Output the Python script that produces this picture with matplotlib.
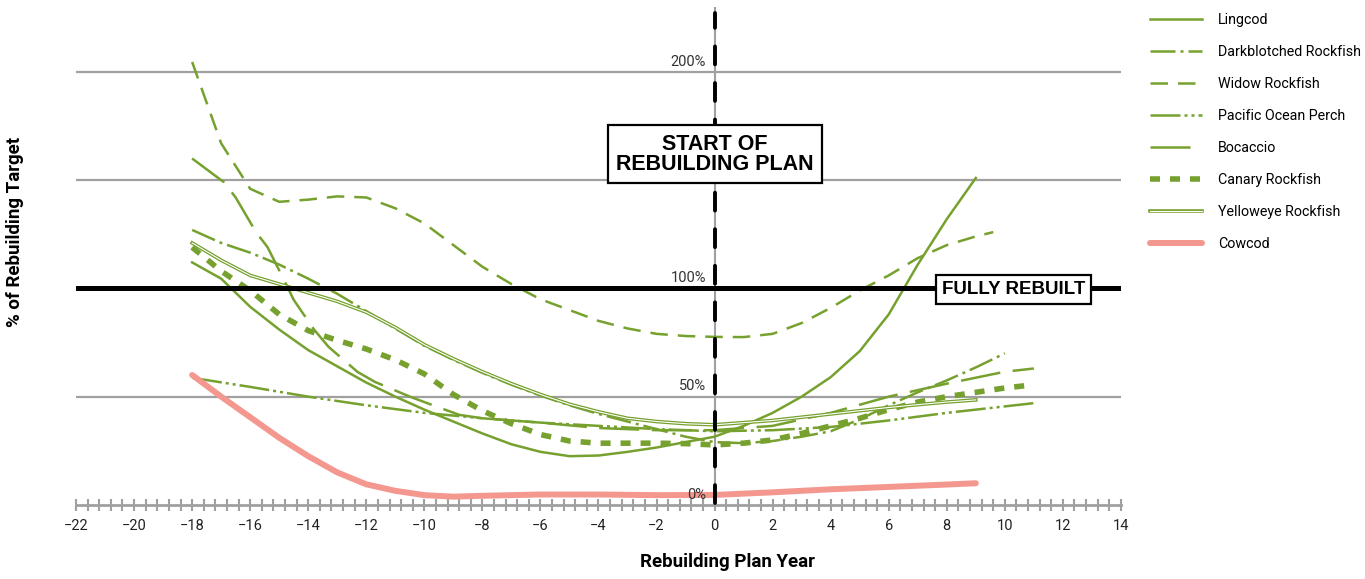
import matplotlib
matplotlib.use("Agg")
import matplotlib.pyplot as plt
import matplotlib.patheffects as pe
from matplotlib import font_manager
from matplotlib.ticker import MultipleLocator

names = {f.name for f in font_manager.fontManager.ttflist}
narrow = "Liberation Sans Narrow" if "Liberation Sans Narrow" in names else "Roboto"
plt.rcParams["font.family"] = [narrow, "DejaVu Sans"]

# values (year relative to plan start, % of rebuilding target)
lingcod_x = [-18, -17, -16, -15, -14, -13, -12, -11, -10, -9, -8, -7, -6, -5, -4, -3, -2, -1, 0, 1, 2, 3, 4, 5, 6, 7, 8, 9]
lingcod_y = [112, 104.5, 91.5, 81, 71.5, 64, 56.5, 50, 44, 38.5, 33, 28, 24.5, 22.5, 22.8, 24.5, 26.5, 29, 31.5, 36.5, 42.5, 50, 59, 71, 88, 111, 132, 151]

darkblotched_x = [-18, -17, -16, -15, -14, -13, -12, -11, -10, -9, -8, -7, -6, -5, -4, -3, -2, -1, 0, 1, 2, 3, 4, 5, 6, 7, 8, 9, 10]
darkblotched_y = [127, 121, 116.5, 111, 104.5, 97.5, 89.5, 81.5, 73.5, 67, 61, 55.5, 50.5, 46, 42, 38.5, 35, 31.5, 29, 28.5, 29.5, 31.5, 34, 39.5, 46, 52, 57.5, 63.5, 70]

widow_x = [-18, -17, -16, -15, -14, -13, -12, -11, -10, -9, -8, -7, -6, -5, -4, -3, -2, -1, 0, 1, 2, 3, 4, 5, 6, 7, 8, 9, 9.6]
widow_y = [204.6, 167, 146, 140, 141, 142.5, 142, 137, 130, 120, 110, 102, 95, 90, 85, 81.5, 79, 78, 77.6, 77.5, 79, 84, 91, 99, 106, 114, 120, 124, 126]

pop_x = [-18, -16, -14, -12, -10, -8, -6, -4, -2, 0, 2, 4, 6, 8, 10, 11]
pop_y = [58.7, 54.5, 50, 46, 42.5, 40, 38, 36.5, 35, 34, 34.5, 36, 39, 42.5, 45.5, 47]

bocaccio_x = [-18, -16.9, -16.5, -15.8, -15.4, -14.8, -14.5, -13.8, -13.3, -12.3, -11.7, -10.5, -9.9, -8.8, -8, -6, -4, -2, 0, 2, 4, 6, 8, 10, 11]
bocaccio_y = [160, 149, 142, 126, 119, 103, 94.7, 81, 73, 61.4, 56.8, 50, 47, 41.6, 40, 38, 35.5, 34.5, 34.5, 36.5, 42.5, 50, 56, 61.5, 63]

canary_x = [-18, -17, -16, -15, -14, -13, -12, -11, -10, -9, -8, -7, -6, -5, -4, -3, -2, -1, 0, 1, 2, 3, 4, 5, 6, 7, 8, 9, 10, 11]
canary_y = [119, 108, 99, 88, 80.5, 76, 72, 67, 60.5, 51, 43.5, 37.5, 32.5, 29.5, 28.5, 28.5, 28.5, 28.3, 27.7, 28.5, 30, 33, 36.5, 40, 44, 47.5, 50, 52, 54, 55.5]

yelloweye_x = [-18, -17, -16, -15, -14, -13, -12, -11, -10, -9, -8, -7, -6, -5, -4, -3, -2, -1, 0, 1, 2, 3, 4, 5, 6, 7, 8, 9]
yelloweye_y = [121, 113, 106, 102, 98, 94, 89, 82, 74, 67.5, 61.5, 56, 51, 46.5, 43, 40, 38.5, 37.5, 37, 38, 39, 40.5, 42, 43.5, 45, 46.3, 47.5, 48.5]

cowcod_x = [-18, -17, -16, -15, -14, -13, -12, -11, -10, -9, -8, -6, -4, -2, 0, 2, 4, 6, 8, 9]
cowcod_y = [60, 50, 40.5, 31, 22.5, 15, 9.5, 6.5, 4.5, 3.8, 4.2, 4.8, 4.8, 4.5, 4.6, 5.8, 7.2, 8.3, 9.4, 10]

grid_vals = [50, 150, 200]
ylabel_vals = [200, 100, 50, 0]

green = "#76a12e"
salmon = "#f4978e"
gray = "#a0a0a0"

fig = plt.figure(figsize=(13.65, 5.79), dpi=100)
ax = fig.add_axes([0.0557, 0.128, 0.7655, 0.860])

for v in grid_vals:
    ax.axhline(v, color=gray, lw=1.6, zorder=1)
ax.axvline(0, color=gray, lw=1.5, zorder=1)

lw = 1.8
ax.plot(lingcod_x, lingcod_y, color=green, lw=lw, label="Lingcod", zorder=3)
ax.plot(darkblotched_x, darkblotched_y, color=green, lw=lw, dashes=(10, 2, 1.2, 2), label="Darkblotched Rockfish", zorder=3)
ax.plot(widow_x, widow_y, color=green, lw=lw, dashes=(7, 4), label="Widow Rockfish", zorder=3)
ax.plot(pop_x, pop_y, color=green, lw=lw, dashes=(12, 1.6, 1.2, 1.6, 1.2, 1.6), label="Pacific Ocean Perch", zorder=3)
ax.plot(bocaccio_x, bocaccio_y, color=green, lw=lw, dashes=(16, 5), label="Bocaccio", zorder=3)
ax.plot(canary_x, canary_y, color=green, lw=4, dashes=(1.8, 1.8), label="Canary Rockfish", zorder=3)
ax.plot(yelloweye_x, yelloweye_y, color="white", lw=0.8, label="Yelloweye Rockfish", zorder=3,
        path_effects=[pe.Stroke(linewidth=2.6, foreground=green), pe.Normal()])
ax.plot(cowcod_x, cowcod_y, color=salmon, lw=4.3, solid_capstyle="round", label="Cowcod", zorder=3)

# reference lines on top of the series
ax.axhline(100, color="black", lw=3.6, zorder=4)
ax.plot([0, 0], [1, 227], color="black", lw=2.8, dashes=(4.6, 4.8), dash_capstyle="round", zorder=4)

for v in ylabel_vals:
    ax.text(-0.3, v + 1.5, f"{v}%", ha="right", va="bottom", fontsize=10.5, color="#333333", zorder=5)

ax.text(0, 162, "START OF\nREBUILDING PLAN", family=["Liberation Sans", "DejaVu Sans"], fontweight="bold",
        fontsize=15.5, ha="center", va="center", linespacing=0.95, zorder=6,
        bbox=dict(boxstyle="square,pad=0.38", fc="white", ec="black", lw=1.6))
ax.text(10.3, 99.5, "FULLY REBUILT", family=["Liberation Sans", "DejaVu Sans"], fontweight="bold",
        fontsize=13.5, ha="center", va="center", zorder=6,
        bbox=dict(boxstyle="square,pad=0.3", fc="white", ec="black", lw=1.6))

ax.set_xlim(-22, 14)
ax.set_ylim(0, 230)
for s in ["top", "right", "left"]:
    ax.spines[s].set_visible(False)
ax.spines["bottom"].set_color(gray)
ax.spines["bottom"].set_linewidth(2)
ax.set_yticks([])
ax.xaxis.set_major_locator(MultipleLocator(2))
ax.xaxis.set_minor_locator(MultipleLocator(0.4))
ax.tick_params(axis="x", which="both", direction="inout", length=9, width=1.5, color=gray,
               labelsize=10.5, labelcolor="#222222", pad=6)

fig.text(0.533, 0.029, "Rebuilding Plan Year", fontweight="bold", fontsize=13.5, ha="center", va="center")
fig.text(0.011, 0.60, "% of Rebuilding Target", fontweight="bold", fontsize=13.5, ha="center", va="center", rotation=90)

fig.legend(loc="upper left", bbox_to_anchor=(1150 / 1365, 1 - 13 / 579), frameon=False,
           fontsize=10.3, handlelength=3.6, handletextpad=1.15, labelspacing=1.26,
           borderpad=0, borderaxespad=0)

fig.savefig("out.png", dpi=100)
